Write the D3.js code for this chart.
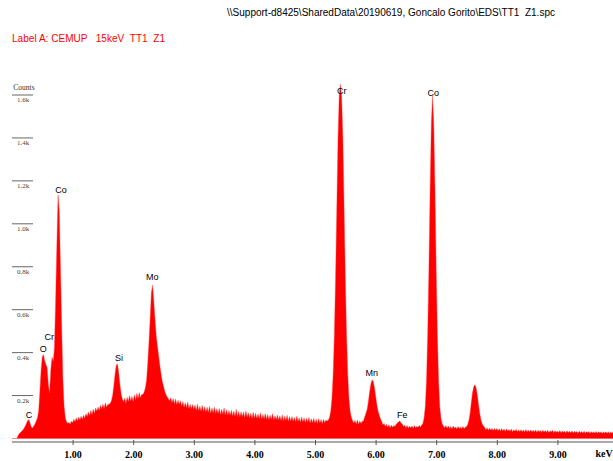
<!DOCTYPE html>
<html>
<head>
<meta charset="utf-8">
<script src="https://cdn.jsdelivr.net/npm/d3@7"></script>
<style>
  body { margin: 0; background: #fff; }
  svg { display: block; }
</style>
</head>
<body>
<svg width="613" height="461"></svg>
<script>
// spectrum data, 0.02 keV per channel starting at 0.00 keV
var channelStart = 0.00;
var channelWidth = 0.02;
var counts = [
  0, 0, 0, 0, 0, 14, 22, 28, 34, 40,
  48, 58, 72, 84, 87, 70, 52, 49, 58, 68,
  82, 96, 128, 220, 320, 382, 390, 362, 345, 330,
  250, 212, 318, 378, 360, 420, 640, 900, 1135, 1060,
  800, 520, 280, 150, 96, 78, 70, 74, 68, 80,
  74, 90, 78, 96, 82, 100, 86, 104, 90, 108,
  96, 115, 102, 124, 106, 130, 112, 136, 118, 142,
  128, 146, 132, 155, 138, 160, 140, 166, 146, 158,
  158, 164, 175, 200, 245, 300, 340, 348, 310, 255,
  210, 185, 170, 188, 164, 192, 172, 200, 176, 196,
  172, 204, 180, 210, 186, 214, 190, 206, 205, 215,
  235, 270, 350, 450, 560, 680, 714, 640, 555, 480,
  430, 385, 340, 300, 265, 245, 220, 205, 195, 185,
  176, 190, 168, 186, 162, 184, 158, 178, 160, 176,
  150, 172, 146, 166, 144, 170, 140, 160, 138, 158,
  136, 156, 132, 160, 130, 150, 128, 154, 126, 148,
  124, 146, 122, 150, 118, 142, 120, 146, 116, 138,
  116, 140, 112, 136, 114, 142, 110, 134, 108, 130,
  108, 132, 106, 128, 104, 136, 102, 126, 100, 124,
  102, 124, 98, 128, 100, 120, 96, 118, 94, 122,
  96, 118, 94, 114, 92, 120, 90, 112, 92, 116,
  90, 112, 88, 108, 90, 116, 86, 106, 88, 110,
  86, 106, 84, 110, 82, 104, 84, 108, 80, 102,
  82, 102, 80, 98, 78, 104, 80, 96, 76, 100,
  78, 96, 74, 94, 76, 98, 72, 92, 74, 94,
  72, 90, 70, 92, 72, 88, 70, 90, 74, 86,
  80, 86, 98, 127, 188, 303, 490, 756, 1080, 1400,
  1600, 1650, 1590, 1400, 1080, 756, 490, 303, 188, 127,
  98, 84, 72, 84, 68, 86, 66, 82, 70, 80,
  82, 100, 118, 135, 170, 215, 252, 272, 268, 240,
  200, 160, 128, 110, 92, 80, 64, 70, 56, 66,
  52, 64, 50, 62, 52, 60, 56, 66, 72, 78,
  82, 72, 68, 56, 62, 50, 60, 48, 58, 50,
  58, 48, 60, 50, 56, 52, 60, 54, 62, 70,
  95, 150, 270, 490, 800, 1170, 1470, 1595, 1460, 1160,
  790, 480, 265, 145, 92, 68, 58, 50, 60, 48,
  58, 46, 56, 44, 58, 48, 54, 44, 56, 46,
  54, 44, 56, 46, 52, 55, 65, 85, 120, 170,
  215, 242, 250, 235, 200, 155, 115, 85, 68, 58,
  52, 40, 50, 38, 48, 40, 47, 37, 46, 38,
  46, 36, 45, 34, 46, 36, 44, 33, 44, 35,
  42, 34, 44, 32, 41, 34, 43, 31, 40, 33,
  41, 32, 40, 30, 42, 31, 39, 30, 40, 32,
  38, 30, 40, 29, 38, 31, 37, 28, 39, 30,
  37, 29, 38, 28, 36, 30, 38, 27, 36, 29,
  35, 28, 37, 27, 35, 29, 34, 26, 36, 28,
  34, 27, 35, 26, 34, 28, 33, 25, 34, 27,
  33, 26, 34, 25, 32, 27, 33, 24, 32, 26,
  32, 25, 33, 24, 31, 26, 32, 23, 31, 25,
  31, 24, 32, 23, 30, 25, 31, 23, 30, 24,
  27
];

// element labels
var peakNames = ["C", "O", "Cr", "Co", "Si", "Mo", "Cr", "Mn", "Fe", "Co"];
var peakEnergies = [0.28, 0.517, 0.615, 0.81, 1.766, 2.315, 5.44, 5.935, 6.44, 6.95];
var peakCounts = [94, 401, 459, 1145, 360, 737, 1603, 293, 94, 1597];

// axes
var xTicks = [1, 2, 3, 4, 5, 6, 7, 8, 9];
var xTickLabels = ["1.00", "2.00", "3.00", "4.00", "5.00", "6.00", "7.00", "8.00", "9.00"];
var yTicks = [200, 400, 600, 800, 1000, 1200, 1400, 1600];
var yTickLabels = ["0.2k", "0.4k", "0.6k", "0.8k", "1.0k", "1.2k", "1.4k", "1.6k"];

var titleText = "\\\\Support-d8425\\SharedData\\20190619, Goncalo Gorito\\EDS\\TT1  Z1.spc";
var labelText = "Label A: CEMUP   15keV  TT1  Z1";

var x = d3.scaleLinear().domain([0, 10]).range([12, 618]);
var y = d3.scaleLinear().domain([0, 1600]).range([438.5, 95]);

var svg = d3.select('svg');

drawHeader();
drawYAxis();
drawSpectrum();
drawXAxis();
drawPeakLabels();

function drawHeader(){
    svg.append('text')
        .attr('x', 227)
        .attr('y', 16)
        .attr('font-family', 'Liberation Sans, Arial, sans-serif')
        .attr('font-size', 10)
        .attr('textLength', 328)
        .attr('lengthAdjust', 'spacingAndGlyphs')
        .style('white-space', 'pre')
        .attr('fill', '#000')
        .text(titleText);

    svg.append('text')
        .attr('x', 12)
        .attr('y', 42)
        .attr('font-family', 'Liberation Sans, Arial, sans-serif')
        .attr('font-size', 10)
        .attr('textLength', 153)
        .attr('lengthAdjust', 'spacingAndGlyphs')
        .style('white-space', 'pre')
        .attr('fill', '#ff0000')
        .text(labelText);
}

function drawYAxis(){
    var g = svg.append('g').attr('class', 'y-axis');

    g.append('text')
        .attr('x', 24)
        .attr('y', 90)
        .attr('text-anchor', 'middle')
        .attr('font-family', 'Liberation Serif, serif')
        .attr('font-size', 7.5)
        .attr('fill', '#333')
        .text('Counts');

    var ticks = g.selectAll('g.ytick').data(yTicks).enter()
        .append('g')
        .attr('class', 'ytick')
        .attr('transform', function(d) { return 'translate(0,' + y(d) + ')'; });

    ticks.append('line')
        .attr('x1', 12)
        .attr('x2', 33)
        .attr('stroke', '#666')
        .attr('stroke-width', 1);

    ticks.append('text')
        .attr('x', 23)
        .attr('y', 7)
        .attr('text-anchor', 'middle')
        .attr('font-family', 'Liberation Serif, serif')
        .attr('font-size', 7)
        .attr('fill', '#444')
        .text(function(d, i) { return yTickLabels[i]; });
}

function drawSpectrum(){
    var area = d3.area()
        .x(function(d, i) { return x(channelStart + i * channelWidth); })
        .y0(y(0))
        .y1(function(d) { return y(d); });

    svg.append('path')
        .datum(counts)
        .attr('class', 'spectrum')
        .attr('d', area)
        .attr('fill', '#ff0000')
        .attr('stroke', '#ff4040')
        .attr('stroke-width', 0.4);
}

function drawXAxis(){
    var axis = d3.axisBottom(x)
        .tickValues(xTicks)
        .tickSize(0)
        .tickFormat(function(d, i) { return xTickLabels[i]; });

    var g = svg.append('g')
        .attr('class', 'x-axis')
        .attr('transform', 'translate(0,442)')
        .call(axis);

    g.select('.domain')
        .attr('d', 'M12,0H613')
        .attr('stroke', '#555');

    g.selectAll('.tick line')
        .attr('y1', -2)
        .attr('y2', 3)
        .attr('stroke', '#555');

    g.selectAll('.tick text')
        .attr('y', 9)
        .attr('font-family', 'Liberation Serif, serif')
        .attr('font-weight', 'bold')
        .attr('font-size', 10)
        .attr('fill', '#000');

    svg.append('text')
        .attr('x', 604)
        .attr('y', 457)
        .attr('text-anchor', 'middle')
        .attr('font-family', 'Liberation Serif, serif')
        .attr('font-weight', 'bold')
        .attr('font-size', 10)
        .attr('fill', '#000')
        .text('keV');
}

function drawPeakLabels(){
    svg.selectAll('text.peak').data(peakNames).enter()
        .append('text')
        .attr('class', 'peak')
        .attr('x', function(d, i) { return x(peakEnergies[i]); })
        .attr('y', function(d, i) { return y(peakCounts[i]); })
        .attr('text-anchor', 'middle')
        .attr('font-family', 'Liberation Sans, Arial, sans-serif')
        .attr('font-size', 9)
        .attr('fill', '#000')
        .text(function(d) { return d; });
}
</script>
</body>
</html>
